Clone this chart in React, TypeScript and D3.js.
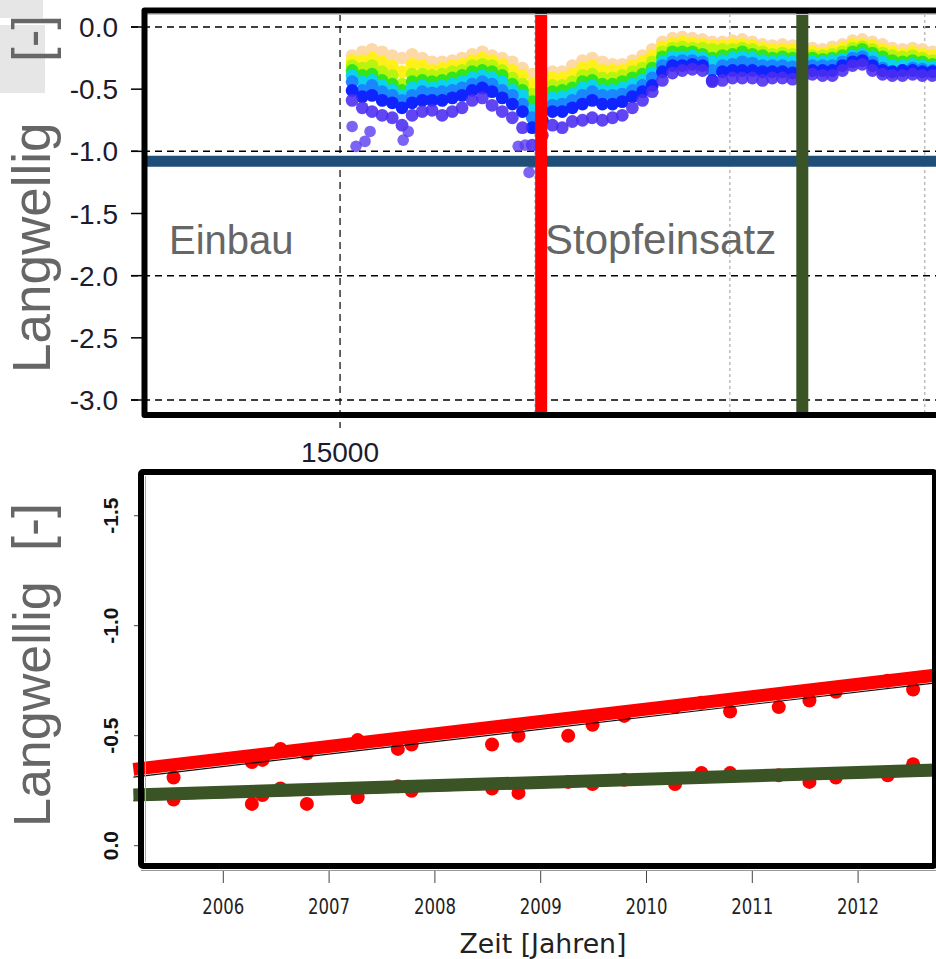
import { useRef, useEffect } from "react";
import * as d3 from "d3";

// ---- top panel: measurement runs (days) and the value of each band ----
const runDays = [
  15031, 15057, 15082, 15108, 15134, 15159, 15185, 15211, 15236, 15262,
  15288, 15313, 15339, 15365, 15390, 15416, 15442, 15468, 15493, 15519,
  15545, 15570, 15596, 15622, 15647, 15673, 15699, 15724, 15750, 15776,
  15801, 15827, 15853, 15878, 15904, 15930, 15955, 15981, 16007, 16032,
  16058, 16084, 16109, 16135, 16161, 16186, 16212, 16238, 16263, 16289,
  16315, 16340, 16366, 16392, 16417, 16443, 16469, 16494, 16520,
];

const bandPeach = [
  -0.23, -0.2, -0.18, -0.2, -0.23, -0.25, -0.22, -0.25, -0.28, -0.28,
  -0.27, -0.25, -0.22, -0.2, -0.23, -0.25, -0.28, -0.33, -0.38, -0.39,
  -0.36, -0.36, -0.31, -0.27, -0.25, -0.28, -0.3, -0.3, -0.27, -0.23,
  -0.18, -0.12, -0.09, -0.08, -0.09, -0.1, -0.12, -0.12, -0.11, -0.1,
  -0.12, -0.14, -0.15, -0.14, -0.15, -0.17, -0.17, -0.18, -0.16, -0.14,
  -0.11, -0.1, -0.12, -0.14, -0.17, -0.18, -0.17, -0.18, -0.2,
];
const bandYellow = [
  -0.27, -0.27, -0.25, -0.28, -0.31, -0.36, -0.3, -0.31, -0.35, -0.33,
  -0.31, -0.3, -0.27, -0.25, -0.27, -0.3, -0.35, -0.39, -0.46, -0.46,
  -0.41, -0.41, -0.38, -0.33, -0.31, -0.35, -0.35, -0.35, -0.31, -0.28,
  -0.23, -0.16, -0.13, -0.12, -0.13, -0.14, -0.15, -0.15, -0.14, -0.14,
  -0.15, -0.17, -0.18, -0.18, -0.18, -0.2, -0.2, -0.21, -0.19, -0.17,
  -0.14, -0.14, -0.15, -0.18, -0.2, -0.22, -0.2, -0.22, -0.23,
];
const bandLime = [
  -0.31, -0.33, -0.31, -0.36, -0.39, -0.46, -0.38, -0.38, -0.39, -0.38,
  -0.36, -0.35, -0.31, -0.3, -0.31, -0.35, -0.41, -0.46, -0.54, -0.52,
  -0.47, -0.47, -0.44, -0.39, -0.38, -0.41, -0.41, -0.39, -0.36, -0.33,
  -0.28, -0.2, -0.17, -0.16, -0.17, -0.17, -0.18, -0.18, -0.18, -0.17,
  -0.18, -0.2, -0.22, -0.21, -0.22, -0.23, -0.23, -0.23, -0.22, -0.2,
  -0.17, -0.16, -0.18, -0.21, -0.23, -0.24, -0.23, -0.25, -0.27,
];
const bandGreen = [
  -0.35, -0.39, -0.38, -0.43, -0.46, -0.51, -0.44, -0.43, -0.44, -0.43,
  -0.41, -0.39, -0.36, -0.35, -0.36, -0.39, -0.46, -0.51, -0.6, -0.57,
  -0.52, -0.51, -0.49, -0.44, -0.43, -0.46, -0.46, -0.44, -0.41, -0.38,
  -0.33, -0.24, -0.2, -0.2, -0.2, -0.22, -0.25, -0.23, -0.22, -0.2,
  -0.22, -0.23, -0.25, -0.24, -0.25, -0.25, -0.25, -0.26, -0.25, -0.23,
  -0.2, -0.18, -0.21, -0.24, -0.27, -0.28, -0.27, -0.28, -0.3,
];
const bandCyan = [
  -0.39, -0.44, -0.43, -0.47, -0.51, -0.55, -0.49, -0.47, -0.49, -0.47,
  -0.46, -0.44, -0.41, -0.39, -0.41, -0.44, -0.51, -0.55, -0.67, -0.62,
  -0.57, -0.56, -0.54, -0.49, -0.47, -0.51, -0.51, -0.49, -0.46, -0.43,
  -0.37, -0.28, -0.24, -0.24, -0.23, -0.25, -0.28, -0.27, -0.25, -0.24,
  -0.25, -0.27, -0.28, -0.27, -0.28, -0.28, -0.28, -0.28, -0.27, -0.26,
  -0.23, -0.22, -0.24, -0.28, -0.31, -0.31, -0.3, -0.31, -0.32,
];
const bandAzure = [
  -0.44, -0.51, -0.47, -0.52, -0.55, -0.59, -0.55, -0.52, -0.53, -0.52,
  -0.51, -0.49, -0.46, -0.44, -0.46, -0.51, -0.55, -0.62, -0.73, -0.68,
  -0.63, -0.62, -0.59, -0.55, -0.52, -0.55, -0.55, -0.54, -0.51, -0.47,
  -0.41, -0.31, -0.28, -0.27, -0.27, -0.28, -0.35, -0.31, -0.3, -0.28,
  -0.29, -0.31, -0.31, -0.31, -0.32, -0.32, -0.31, -0.31, -0.31, -0.28,
  -0.25, -0.24, -0.28, -0.33, -0.36, -0.35, -0.33, -0.34, -0.35,
];
const bandBlue = [
  -0.51, -0.56, -0.55, -0.59, -0.61, -0.65, -0.61, -0.59, -0.59, -0.59,
  -0.57, -0.55, -0.51, -0.49, -0.52, -0.57, -0.62, -0.68, -0.81, -0.75,
  -0.68, -0.68, -0.65, -0.62, -0.59, -0.62, -0.62, -0.6, -0.56, -0.52,
  -0.47, -0.36, -0.31, -0.31, -0.3, -0.31, -0.43, -0.36, -0.35, -0.35,
  -0.35, -0.36, -0.36, -0.36, -0.37, -0.36, -0.35, -0.35, -0.35, -0.31,
  -0.28, -0.27, -0.31, -0.35, -0.36, -0.35, -0.35, -0.36, -0.36,
];
const bandViolet = [
  -0.59, -0.65, -0.68, -0.71, -0.73, -0.79, -0.71, -0.68, -0.67, -0.71,
  -0.68, -0.65, -0.59, -0.57, -0.63, -0.68, -0.73, -0.81, -0.95, -0.87,
  -0.79, -0.81, -0.76, -0.75, -0.73, -0.75, -0.73, -0.71, -0.65, -0.59,
  -0.52, -0.43, -0.37, -0.35, -0.34, -0.35, -0.44, -0.43, -0.41, -0.41,
  -0.41, -0.43, -0.41, -0.41, -0.42, -0.41, -0.38, -0.39, -0.39, -0.35,
  -0.31, -0.3, -0.35, -0.38, -0.39, -0.39, -0.38, -0.39, -0.39,
];
const bandColors = ["#fcd9a6", "#fff01a", "#b8f50c", "#33e61c", "#0cd2ee", "#1a86ff", "#1024ff", "#4a2cf0"];

const outlierDays = [15031, 15041, 15064, 15077, 15162, 15175, 15457, 15475, 15485, 15493];
const outlierValues = [-0.8, -0.96, -0.92, -0.84, -0.91, -0.84, -0.96, -0.95, -1.17, -1.09];

const topYTicks = [0, -0.5, -1, -1.5, -2, -2.5, -3];
const topGridLines = [0, -1, -2, -3];
const topLabelledDay = 15000;
const topMinorDays = [15500, 16000, 16500];
const limitValue = -1.08;
const firstTampingDay = 15516;
const secondTampingDay = 16186;

// ---- bottom panel: yearly measurements of two sections ----
const sampleYears = [
  2005.53, 2006.27, 2006.37, 2006.54, 2006.79, 2007.27, 2007.65, 2007.78, 2008.54, 2008.79,
  2009.26, 2009.49, 2009.79, 2010.27, 2010.52, 2010.79, 2011.25, 2011.54, 2011.79, 2012.28, 2012.52,
];
const upperValues = [
  -0.31, -0.38, -0.39, -0.44, -0.42, -0.48, -0.44, -0.46, -0.46, -0.5,
  -0.5, -0.55, -0.59, -0.63, -0.65, -0.61, -0.63, -0.66, -0.7, -0.75, -0.71,
];
const lowerValues = [
  -0.21, -0.19, -0.23, -0.26, -0.19, -0.22, -0.27, -0.25, -0.26, -0.24,
  -0.29, -0.28, -0.3, -0.28, -0.33, -0.33, -0.32, -0.29, -0.31, -0.32, -0.37,
];
const trendYears = [2005.15, 2012.8];
const upperTrend = [-0.347, -0.779];
const upperFit = [-0.312, -0.744];
const lowerTrend = [-0.23, -0.345];
const lowerFit = [-0.206, -0.321];
const yearTicks = [2006, 2007, 2008, 2009, 2010, 2011, 2012];
const bottomYTicks = [0, -0.5, -1, -1.5];

const SANS = "'Liberation Sans', Arial, sans-serif";
const NARROW = "'DejaVu Sans Condensed', 'DejaVu Sans', sans-serif";

export default function App() {
  const svgRef = useRef<SVGSVGElement>(null);

  useEffect(() => {
    document.body.style.margin = "0";
    if (!svgRef.current) return;
    const svg = d3.select(svgRef.current);
    svg.selectAll("*").remove();

    // ================= TOP PANEL =================
    const tx = d3.scaleLinear().domain([14497, 16529]).range([144, 936]);
    const ty = d3.scaleLinear().domain([0, -3]).range([27, 400]);
    const top = svg.append("g");

    // grey box behind the top-left corner
    top.append("rect").attr("x", 0).attr("y", 0).attr("width", 43).attr("height", 18).attr("fill", "#e6e6e6");
    top.append("rect").attr("x", 0).attr("y", 25).attr("width", 45).attr("height", 68).attr("fill", "#e6e6e6");

    // axis title
    top.append("text")
      .attr("transform", "translate(50,373) rotate(-90)")
      .attr("font-family", SANS).attr("font-size", 53).attr("fill", "#666")
      .text("Langwellig");
    top.append("text")
      .attr("transform", "translate(50,62) rotate(-90)")
      .attr("font-family", SANS).attr("font-size", 53).attr("fill", "#666")
      .text("[-]");

    // grid
    topGridLines.forEach((v) => {
      top.append("line")
        .attr("x1", 131).attr("x2", 936).attr("y1", ty(v)).attr("y2", ty(v))
        .attr("stroke", "#000").attr("stroke-width", 1.5).attr("stroke-dasharray", "7,5");
    });
    topMinorDays.forEach((d) => {
      top.append("line")
        .attr("x1", tx(d)).attr("x2", tx(d)).attr("y1", 14).attr("y2", 412)
        .attr("stroke", "#bcbcbc").attr("stroke-width", 1.5).attr("stroke-dasharray", "3,3");
    });
    top.append("line")
      .attr("x1", tx(topLabelledDay)).attr("x2", tx(topLabelledDay)).attr("y1", 14).attr("y2", 428)
      .attr("stroke", "#000").attr("stroke-width", 1.2).attr("stroke-dasharray", "7,5");

    // y ticks + labels
    topYTicks.forEach((v) => {
      top.append("line")
        .attr("x1", 131).attr("x2", 144).attr("y1", ty(v)).attr("y2", ty(v))
        .attr("stroke", "#000").attr("stroke-width", 1.5);
      top.append("text")
        .attr("x", 118).attr("y", ty(v)).attr("dy", "0.36em")
        .attr("text-anchor", "end")
        .attr("font-family", SANS).attr("font-size", 28).attr("fill", "#1c1c2c")
        .text(v === 0 ? "0.0" : d3.format(".1f")(v).replace("−", "-"));
    });

    // bands of points
    const bands = [bandPeach, bandYellow, bandLime, bandGreen, bandCyan, bandAzure, bandBlue, bandViolet];
    bands.forEach((vals, i) => {
      top.append("g")
        .selectAll("circle")
        .data(runDays.map((d, j) => ({ d, v: vals[j] })).filter((p) => p.v !== undefined))
        .enter()
        .append("circle")
        .attr("cx", (p) => tx(p.d))
        .attr("cy", (p) => ty(p.v))
        .attr("r", 6.4)
        .attr("fill", bandColors[i])
        .attr("fill-opacity", i === 7 ? 0.88 : 1);
    });
    top.append("g")
      .selectAll("circle")
      .data(outlierDays.map((d, j) => ({ d, v: outlierValues[j] })))
      .enter()
      .append("circle")
      .attr("cx", (p) => tx(p.d))
      .attr("cy", (p) => ty(p.v))
      .attr("r", 5.8)
      .attr("fill", "#5a3cf0")
      .attr("fill-opacity", 0.8);

    // limit line
    top.append("line")
      .attr("x1", 147).attr("x2", 936).attr("y1", ty(limitValue)).attr("y2", ty(limitValue))
      .attr("stroke", "#1f4e79").attr("stroke-width", 11);

    // tamping markers
    top.append("line")
      .attr("x1", tx(firstTampingDay)).attr("x2", tx(firstTampingDay)).attr("y1", 10).attr("y2", 417)
      .attr("stroke", "#ff0000").attr("stroke-width", 12);
    top.append("line")
      .attr("x1", tx(secondTampingDay)).attr("x2", tx(secondTampingDay)).attr("y1", 10).attr("y2", 417)
      .attr("stroke", "#3b5426").attr("stroke-width", 12);

    // frame
    top.append("line").attr("x1", 147).attr("x2", 936).attr("y1", 14.5).attr("y2", 14.5)
      .attr("stroke", "#c8c8c8").attr("stroke-width", 1);
    top.append("path")
      .attr("d", "M950,10.5 H144.5 V415 H950")
      .attr("fill", "none").attr("stroke", "#000").attr("stroke-width", 6)
      .attr("stroke-linejoin", "round");

    top.append("text")
      .attr("x", tx(topLabelledDay)).attr("y", 462).attr("text-anchor", "middle")
      .attr("font-family", SANS).attr("font-size", 28).attr("fill", "#1c1c2c")
      .text("15000");

    top.append("text")
      .attr("x", 169).attr("y", 254)
      .attr("font-family", SANS).attr("font-size", 40).attr("fill", "#666")
      .text("Einbau");
    top.append("text")
      .attr("x", 545).attr("y", 254)
      .attr("font-family", SANS).attr("font-size", 42).attr("fill", "#666")
      .text("Stopfeinsatz");

    // ================= BOTTOM PANEL =================
    const bx = d3.scaleLinear().domain([2005, 2013]).range([117.5, 963.9]);
    const by = d3.scaleLinear().domain([0, -1.5]).range([845.7, 515.7]);
    const bot = svg.append("g");

    bot.append("text")
      .attr("transform", "translate(50,827) rotate(-90)")
      .attr("font-family", SANS).attr("font-size", 52).attr("fill", "#666")
      .text("Langwellig");
    bot.append("text")
      .attr("transform", "translate(50,551) rotate(-90)")
      .attr("font-family", SANS).attr("font-size", 54).attr("fill", "#666")
      .text("[-]");

    bottomYTicks.forEach((v) => {
      bot.append("line")
        .attr("x1", 134).attr("x2", 142).attr("y1", by(v)).attr("y2", by(v))
        .attr("stroke", "#444").attr("stroke-width", 1);
      bot.append("text")
        .attr("transform", `translate(118,${by(v)}) rotate(-90)`)
        .attr("text-anchor", "middle")
        .attr("font-family", SANS).attr("font-size", 21).attr("font-weight", "bold").attr("fill", "#141414")
        .text(v === 0 ? "0.0" : d3.format(".1f")(v).replace("−", "-"));
    });

    // x axis
    bot.append("line").attr("x1", 141).attr("x2", 936).attr("y1", 870.5).attr("y2", 870.5)
      .attr("stroke", "#999").attr("stroke-width", 1);
    yearTicks.forEach((yr) => {
      bot.append("line")
        .attr("x1", bx(yr)).attr("x2", bx(yr)).attr("y1", 871).attr("y2", 883)
        .attr("stroke", "#444").attr("stroke-width", 1);
      bot.append("text")
        .attr("x", bx(yr)).attr("y", 914).attr("text-anchor", "middle")
        .attr("font-family", NARROW).attr("font-size", 22).attr("fill", "#222")
        .attr("textLength", 42).attr("lengthAdjust", "spacingAndGlyphs")
        .text(String(yr));
    });
    bot.append("text")
      .attr("x", 543).attr("y", 953).attr("text-anchor", "middle")
      .attr("font-family", NARROW).attr("font-size", 26).attr("fill", "#222")
      .attr("textLength", 167).attr("lengthAdjust", "spacingAndGlyphs")
      .text("Zeit [Jahren]");

    // points
    [upperValues, lowerValues].forEach((vals) => {
      bot.append("g")
        .selectAll("circle")
        .data(sampleYears.map((yr, j) => ({ yr, v: vals[j] })))
        .enter()
        .append("circle")
        .attr("cx", (p) => bx(p.yr))
        .attr("cy", (p) => by(p.v))
        .attr("r", 7)
        .attr("fill", "#ff0000");
    });

    // regression lines
    const seg = (vals: number[]) =>
      d3.line<number>().x((_, i) => bx(trendYears[i])).y((v) => by(v))(vals) as string;
    bot.append("path").attr("d", seg(upperFit)).attr("fill", "none").attr("stroke", "#111").attr("stroke-width", 1.2);
    bot.append("path").attr("d", seg(lowerFit)).attr("fill", "none").attr("stroke", "#111").attr("stroke-width", 1.2);
    bot.append("path").attr("d", seg(upperTrend)).attr("fill", "none").attr("stroke", "#ff0000").attr("stroke-width", 13);
    bot.append("path").attr("d", seg(lowerTrend)).attr("fill", "none").attr("stroke", "#3b5426").attr("stroke-width", 13);

    // frame
    bot.append("line").attr("x1", 145.5).attr("x2", 145.5).attr("y1", 476).attr("y2", 862)
      .attr("stroke", "#aaa").attr("stroke-width", 1);
    bot.append("rect")
      .attr("x", 141).attr("y", 472).attr("width", 794).attr("height", 394)
      .attr("fill", "none").attr("stroke", "#000").attr("stroke-width", 6)
      .attr("rx", 2);
  }, []);

  return (
    <svg
      ref={svgRef}
      width={936}
      height={959}
      style={{ display: "block", background: "#fff" }}
    />
  );
}
